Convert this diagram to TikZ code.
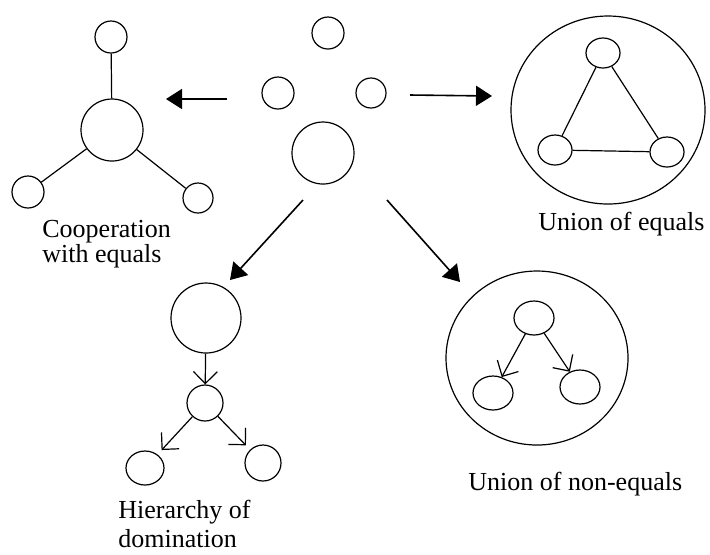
\documentclass[tikz,border=0pt]{standalone}
\usepackage{fontspec}
\setmainfont{Liberation Serif}
\usetikzlibrary{arrows.meta,shapes.geometric}
\begin{document}
\begin{tikzpicture}[
            x=0.5pt,y=-0.5pt,
            ring/.style={circle,draw,line width=0.6pt,inner sep=0pt,minimum size=#1},
            oval/.style 2 args={ellipse,draw,line width=0.6pt,inner sep=0pt,minimum width=#1,minimum height=#2},
            link/.style={line width=0.6pt},
            flow/.style={-{Triangle[length=8pt,width=10pt]},line width=0.8pt},
            rank/.style={-{Straight Barb[length=6pt,width=12pt]},line width=0.6pt},
            caption/.style={inner sep=0pt,align=left,font=\fontsize{13}{12.5}\selectfont}
        ]
            \useasboundingbox (0,0) rectangle (710,554);

            % separate individuals in the middle
            \node[ring=16pt] (soloTop) at (328,33) {};
            \node[ring=16pt] (soloLeft) at (278,93) {};
            \node[ring=15pt] (soloRight) at (371,93) {};
            \node[ring=31pt] (soloBig) at (323,153) {};

            % cooperation with equals
            \node[ring=16pt] (coopTop) at (111,37) {};
            \node[ring=31pt] (coopHub) at (112,130) {};
            \node[ring=16pt] (coopLeft) at (28,192) {};
            \node[ring=15pt] (coopRight) at (198,198) {};
            \draw[link] (coopTop) -- (coopHub);
            \draw[link] (coopHub) -- (coopLeft);
            \draw[link] (coopHub) -- (coopRight);
            \node[caption,anchor=north west] (coopText) at (42,220) {Cooperation\\with equals};

            % union of equals
            \node[oval={97pt}{94pt}] (eqRing) at (608,110) {};
            \node[oval={17pt}{15pt}] (eqTop) at (603,53) {};
            \node[oval={17pt}{15pt}] (eqLeft) at (555,150) {};
            \node[oval={17pt}{15pt}] (eqRight) at (667,152) {};
            \draw[link] (eqTop) -- (eqLeft);
            \draw[link] (eqTop) -- (eqRight);
            \draw[link] (eqLeft) -- (eqRight);
            \node[caption,anchor=base west] (eqText) at (538,230) {Union of equals};

            % hierarchy of domination
            \node[ring=35pt] (hiTop) at (206,318) {};
            \node[ring=18pt] (hiMid) at (205,403) {};
            \node[oval={19pt}{17pt}] (hiLeft) at (145,468) {};
            \node[ring=18pt] (hiRight) at (263,463) {};
            \draw[rank] (hiTop) -- (hiMid);
            \draw[rank,shorten >=3pt] (hiMid) -- (hiLeft);
            \draw[rank,shorten >=3pt] (hiMid) -- (hiRight);
            \node[caption,anchor=north west,font=\fontsize{13}{14.5}\selectfont] (hiText) at (118,500) {Hierarchy of\\domination};

            % union of non-equals
            \node[oval={91pt}{87pt}] (neRing) at (537,358) {};
            \node[oval={20pt}{17pt}] (neTop) at (534,318) {};
            \node[oval={20pt}{17pt}] (neLeft) at (493,393) {};
            \node[oval={20pt}{17pt}] (neRight) at (580,387) {};
            \draw[rank] (neTop) -- (neLeft);
            \draw[rank] (neTop) -- (neRight);
            \node[caption,anchor=base west] (neText) at (468,490) {Union of non-equals};

            % the four ways out of the middle
            \coordinate (toCoopA) at (227,99);
            \coordinate (toCoopB) at (166,99);
            \coordinate (toEqA) at (410,95);
            \coordinate (toEqB) at (492,96);
            \coordinate (toHiA) at (303,200);
            \coordinate (toHiB) at (230,280);
            \coordinate (toNeA) at (387,200);
            \coordinate (toNeB) at (460,282);
            \draw[flow] (toCoopA) -- (toCoopB);
            \draw[flow] (toEqA) -- (toEqB);
            \draw[flow] (toHiA) -- (toHiB);
            \draw[flow] (toNeA) -- (toNeB);
        \end{tikzpicture}
\end{document}
